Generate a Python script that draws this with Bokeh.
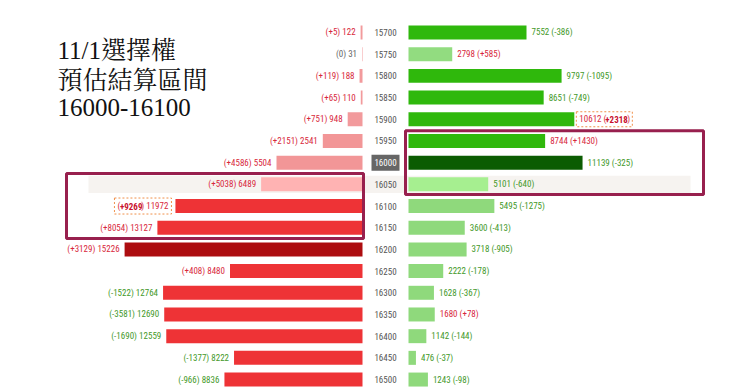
from bokeh.plotting import figure
from bokeh.models import Range1d, ColumnDataSource
from bokeh.core.properties import value
from bokeh.embed import file_html
from bokeh.resources import INLINE

# ---------------- data ----------------
strikes = [15700, 15750, 15800, 15850, 15900, 15950, 16000, 16050, 16100,
           16150, 16200, 16250, 16300, 16350, 16400, 16450, 16500]
put_oi = [122, 31, 188, 110, 948, 2541, 5504, 6489, 11972, 13127, 15226,
          8480, 12764, 12690, 12559, 8222, 8836]
put_chg = [5, 0, 119, 65, 751, 2151, 4586, 5038, 9269, 8054, 3129, 408,
           -1522, -3581, -1690, -1377, -966]
call_oi = [7552, 2798, 9797, 8651, 10612, 8744, 11139, 5101, 5495, 3600,
           3718, 2222, 1628, 1680, 1142, 476, 1243]
call_chg = [-386, 585, -1095, -749, 2318, 1430, -325, -640, -1275, -413,
            -905, -178, -367, 78, -144, -37, -98]
title_lines = ["11/1選擇權", "預估結算區間", "16000-16100"]
settle_strike = 16000
put_focus = [16050, 16100, 16150]
call_focus = [15950, 16000, 16050]
band_strike = 16050
put_bold_strike = 16100
call_bold_strike = 15900

# ---------------- styles ----------------
put_colors = ["#f29a9c"] * 5 + ["#f29697", "#f29697", "#ffb3b3", "#ee3336",
              "#ee3336", "#ad0d10"] + ["#ee3336"] * 6
call_colors = ["#2fb80c", "#92dc80", "#2fb80c", "#2fb80c", "#2fb80c",
               "#2fb80c", "#0b5c02", "#a6ef90"] + ["#8fd97c"] * 9
RED_TXT = "#d8283c"
GREEN_TXT = "#44992a"
GRAY_TXT = "#666666"
LBL_FONT = "Liberation Sans Narrow, Roboto Condensed, Liberation Sans"
LBL_SIZE = "9px"

UPX = 64.0            # data units per pixel
GAP = 23 * UPX        # gap from centre to bar starts
BAR_H = 0.645

p = figure(width=740, height=391, output_backend="svg", toolbar_location=None,
           x_range=Range1d(-24640, 22720), y_range=Range1d(16.551, -1.475),
           x_axis_type=None, y_axis_type=None, min_border=0)
p.outline_line_color = None
p.xgrid.visible = False
p.ygrid.visible = False
p.background_fill_color = "white"
p.border_fill_color = "white"

rows = list(range(len(strikes)))

def chg_color(c):
    return RED_TXT if c > 0 else (GREEN_TXT if c < 0 else GRAY_TXT)

def fmt(c):
    return f"+{c}" if c > 0 else f"{c}"

# highlighted band row
bi = strikes.index(band_strike)
p.quad(left=[-19008], right=[19520], top=[bi - 0.4], bottom=[bi + 0.4],
       fill_color="#f6f3f0", line_color=None)

# bars
src = ColumnDataSource(dict(
    y=rows,
    pl=[-(GAP + v) for v in put_oi], pr=[-GAP] * len(rows),
    cl=[GAP] * len(rows), cr=[GAP + v for v in call_oi],
    pc=put_colors, cc=call_colors,
))
p.hbar(y="y", left="pl", right="pr", height=BAR_H, fill_color="pc",
       line_color=None, source=src)
p.hbar(y="y", left="cl", right="cr", height=BAR_H, fill_color="cc",
       line_color=None, source=src)

# labels (normal)
pb = strikes.index(put_bold_strike)
cb = strikes.index(call_bold_strike)
pl_idx = [i for i in rows if i != pb]
cl_idx = [i for i in rows if i != cb]
p.text(x=[-(GAP + put_oi[i]) for i in pl_idx], y=[i for i in pl_idx],
       text=[f"({fmt(put_chg[i])}) {put_oi[i]}" for i in pl_idx],
       text_color=[chg_color(put_chg[i]) for i in pl_idx],
       x_offset=-5, text_align="right", text_baseline="middle",
       text_font=value(LBL_FONT), text_font_size=LBL_SIZE)
p.text(x=[GAP + call_oi[i] for i in cl_idx], y=[i for i in cl_idx],
       text=[f"{call_oi[i]} ({fmt(call_chg[i])})" for i in cl_idx],
       text_color=[chg_color(call_chg[i]) for i in cl_idx],
       x_offset=5, text_align="left", text_baseline="middle",
       text_font=value(LBL_FONT), text_font_size=LBL_SIZE)

# bold labels in pieces
BOLD_RED = "#c8102e"
xa = -(GAP + put_oi[pb])
p.text(x=[xa], y=[pb], text=[f") {put_oi[pb]}"], x_offset=-7,
       text_align="right", text_baseline="middle", text_color=RED_TXT,
       text_font=value(LBL_FONT), text_font_size=LBL_SIZE)
p.text(x=[xa], y=[pb], text=[fmt(put_chg[pb])], x_offset=-33,
       text_align="right", text_baseline="middle", text_color=BOLD_RED,
       text_font=value(LBL_FONT), text_font_size=LBL_SIZE,
       text_font_style="bold")
p.text(x=[xa], y=[pb], text=["("], x_offset=-55,
       text_align="right", text_baseline="middle", text_color=RED_TXT,
       text_font=value(LBL_FONT), text_font_size=LBL_SIZE)
p.rect(x=[xa - 32.5 * UPX], y=[pb], width=57, height=16, width_units="screen",
       height_units="screen", fill_color=None, line_color="#f0904a",
       line_dash="2 2", line_width=1)

xb = GAP + call_oi[cb]
p.text(x=[xb], y=[cb], text=[f"{call_oi[cb]} ("], x_offset=5,
       text_align="left", text_baseline="middle", text_color=RED_TXT,
       text_font=value(LBL_FONT), text_font_size=LBL_SIZE)
p.text(x=[xb], y=[cb], text=[fmt(call_chg[cb])], x_offset=31,
       text_align="left", text_baseline="middle", text_color=BOLD_RED,
       text_font=value(LBL_FONT), text_font_size=LBL_SIZE,
       text_font_style="bold")
p.text(x=[xb], y=[cb], text=[")"], x_offset=53,
       text_align="left", text_baseline="middle", text_color=RED_TXT,
       text_font=value(LBL_FONT), text_font_size=LBL_SIZE)
p.rect(x=[xb + 30 * UPX], y=[cb], width=56, height=15, width_units="screen",
       height_units="screen", fill_color=None, line_color="#f0904a",
       line_dash="2 2", line_width=1)

# strike labels
si = strikes.index(settle_strike)
p.rect(x=[0], y=[si], width=28, height=16, width_units="screen",
       height_units="screen", fill_color="#666666", line_color=None)
p.text(x=[0] * len(rows), y=rows, text=[str(s) for s in strikes],
       text_color=["white" if i == si else "#555555" for i in rows],
       text_align="center", text_baseline="middle",
       text_font=value(LBL_FONT), text_font_size=LBL_SIZE)

# focus boxes
pi0 = strikes.index(put_focus[0]); pi1 = strikes.index(put_focus[-1])
ci0 = strikes.index(call_focus[0]); ci1 = strikes.index(call_focus[-1])
p.quad(left=[-20416], right=[-GAP + UPX], top=[pi0 - 0.5], bottom=[pi1 + 0.5],
       fill_color=None, line_color="#98204e", line_width=3)
p.quad(left=[GAP - 3 * UPX], right=[20352], top=[ci0 - 0.47], bottom=[ci1 + 0.47],
       fill_color=None, line_color="#98204e", line_width=3)

# title
p.text(x=[-20992] * 3, y=[0.83, 2.21, 3.45], text=title_lines,
       text_align="left", text_baseline="middle", text_color="#111111",
       text_font=value("Liberation Serif, Noto Serif CJK TC, Noto Sans CJK TC"),
       text_font_size="25px")

open("out.html", "w").write(file_html(p, INLINE))
